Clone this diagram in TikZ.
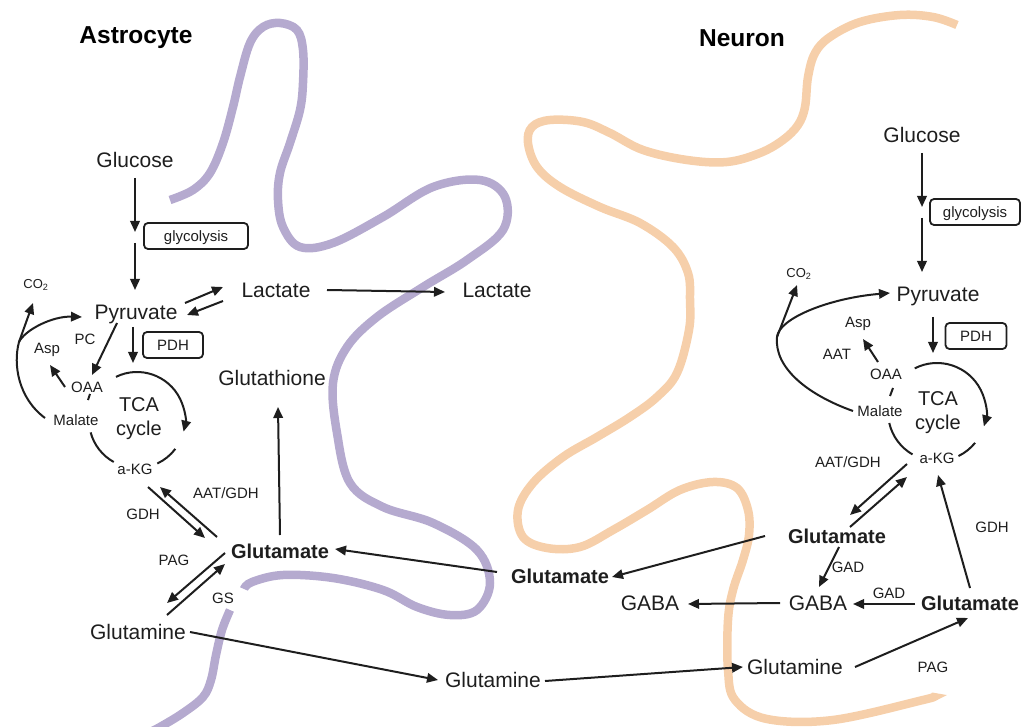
\documentclass[tikz,border=0pt]{standalone}
\usepackage{fontspec}
\setmainfont{Liberation Sans}
\usetikzlibrary{arrows.meta}
\definecolor{astro}{HTML}{B5AACF}
\definecolor{neuro}{HTML}{F6CFAA}
\definecolor{ink}{HTML}{1E1E1E}

\begin{document}
\begin{tikzpicture}[->,>={Triangle[length=11pt,width=9.5pt]},line width=2pt,
                    color=ink,x=1pt,y=-1pt]
  \tikzstyle{met}=[font=\fontsize{21}{24}\selectfont,text height=15pt,text depth=0pt,inner sep=0pt]
  \tikzstyle{metb}=[met,font=\fontsize{20}{24}\selectfont\bfseries,text height=14.5pt]
  \tikzstyle{lbl}=[font=\fontsize{15}{18}\selectfont,text height=10.7pt,text depth=0pt,inner sep=0pt]
  \tikzstyle{enz}=[lbl,draw,rounded corners=4pt,line width=1.8pt,minimum height=26pt]
  \tikzstyle{cycle}=[font=\fontsize{20}{24}\selectfont,align=center,inner sep=0pt]
  \tikzstyle{cellname}=[font=\fontsize{24.5}{28}\selectfont\bfseries,text=black]
  \tikzstyle{membrane}=[-,line width=8.5pt]

  \useasboundingbox (0,0) rectangle (1023,727);

  % membranes
  \draw[membrane,draw=astro] plot[smooth,tension=0.6] coordinates {
    (170,200) (193,190) (210,173) (223,143) (233,107) (240,77) (250,43) (263,27)
    (280,23) (297,30) (303,50) (303,83) (300,110) (290,143) (280,173) (278,200)
    (283,227) (300,247) (333,243) (383,217) (433,187) (480,180) (505,197) (503,230)
    (467,260) (423,287) (377,317) (347,347) (333,383) (337,433) (350,483) (383,507)
    (433,523) (477,550) (490,583) (477,610) (450,615) (417,607) (383,590) (333,578)
    (283,575) (252,582) (244,589)};
  \draw[membrane,draw=astro] plot[smooth,tension=0.6] coordinates {
    (230,610) (222,630) (216,655) (211,680) (203,697) (183,713) (160,727) (150,732)};
  \draw[membrane,draw=neuro] plot[smooth,tension=0.6] coordinates {
    (957,25) (933,17) (900,15) (860,22) (830,37) (815,53) (808,77) (805,107)
    (798,125) (783,140) (760,153) (727,162) (687,160) (643,150) (610,133) (583,122)
    (550,120) (532,127) (528,143) (537,167) (560,187) (600,207) (640,223) (673,247)
    (688,273) (690,300) (689,330) (677,373) (657,397) (630,417) (597,437) (563,457)
    (533,483) (518,510) (523,537) (547,548) (580,547) (613,530) (647,510) (680,490)
    (713,482) (737,488) (748,510) (749,535) (743,560) (733,590) (728,620) (728,670)
    (735,700) (767,719) (833,720) (923,700) (932,697)};

  % astrocyte
  \node[cellname] (TA) at (136,38) {Astrocyte};
  \node[met] (GlcA) at (135,160) {Glucose};
  \coordinate (gA) at (135,238);
  \node[enz,minimum width=104pt] (glyA) at (196,236) {glycolysis};
  \node[met] (PyrA) at (136,312) {Pyruvate};
  \node[met] (LacA) at (276,290) {Lactate};
  \node[enz,minimum width=60pt] (pdhA) at (173,345) {PDH};
  \node[lbl] (PCA) at (85,339) {PC};
  \node[lbl] (AspA) at (47,348) {Asp};
  \node[lbl] (OAAA) at (87,387) {OAA};
  \node[lbl] (MalA) at (76,420) {Malate};
  \coordinate (cA) at (137,420);
  \node[cycle] (TCAA) at (139,419) {TCA\\cycle};
  \node[lbl] (aKGA) at (135,469) {a-KG};
  \node[lbl,font=\fontsize{13}{15}\selectfont] (CO2A) at (36,283) {CO\textsubscript{2}};
  \coordinate (brA) at (19,342);
  \node[lbl] (GDHA) at (143,514) {GDH};
  \node[lbl] (AGA) at (226,493) {AAT/GDH};
  \node[metb] (GluA) at (280,551) {Glutamate};
  \node[lbl] (PAGA) at (174,560) {PAG};
  \node[lbl] (GSA) at (223,598) {GS};
  \node[met] (GlnA) at (138,632) {Glutamine};
  \node[met] (GshA) at (272,378) {Glutathione};

  % between the cells
  \node[met] (LacX) at (497,290) {Lactate};
  \node[metb] (GluX) at (560,576) {Glutamate};
  \node[met] (GABAX) at (650,603) {GABA};
  \node[met] (GlnX) at (493,680) {Glutamine};

  % neuron
  \node[cellname] (TN) at (742,38) {Neuron};
  \node[met] (GlcN) at (922,135) {Glucose};
  \coordinate (gN) at (922,213);
  \node[enz,minimum width=90pt] (glyN) at (975,212) {glycolysis};
  \node[met] (PyrN) at (938,294) {Pyruvate};
  \node[enz,minimum width=61pt] (pdhN) at (976,336) {PDH};
  \node[lbl,font=\fontsize{13}{15}\selectfont] (CO2N) at (799,272) {CO\textsubscript{2}};
  \coordinate (brN) at (777,337);
  \node[lbl] (AspN) at (858,322) {Asp};
  \node[lbl] (AATN) at (837,354) {AAT};
  \node[lbl] (OAAN) at (886,374) {OAA};
  \node[lbl] (MalN) at (880,411) {Malate};
  \coordinate (cN) at (937,412);
  \node[cycle] (TCAN) at (938,413) {TCA\\cycle};
  \node[lbl] (aKGN) at (937,458) {a-KG};
  \node[lbl] (AGN) at (848,462) {AAT/GDH};
  \node[metb] (Glu1N) at (837,536) {Glutamate};
  \node[lbl] (GAD1) at (848,567) {GAD};
  \node[met] (GABAN) at (818,603) {GABA};
  \node[lbl] (GAD2) at (889,593) {GAD};
  \node[metb] (Glu2N) at (970,603) {Glutamate};
  \node[lbl] (GDHN) at (992,527) {GDH};
  \node[met] (GlnN) at (795,667) {Glutamine};
  \node[lbl] (PAGN) at (933,667) {PAG};

  % TCA cycles
  \draw ([shift={(244:48)}]cA) arc (244:374:48);
  \draw[-] ([shift={(37:48)}]cA) arc (37:65:48);
  \draw[-] ([shift={(119:48)}]cA) arc (119:165:48);
  \draw[-] ([shift={(-47,-26)}]cA) -- ([shift={(-49,-20)}]cA);
  \draw ([shift={(243:49)}]cN) arc (243:377:49);
  \draw[-] ([shift={(39:49)}]cN) arc (39:64:49);
  \draw[-] ([shift={(120:49)}]cN) arc (120:167:49);
  \draw[-] ([shift={(-44,-24)}]cN) -- ([shift={(-47,-16)}]cN);

  % malate back to pyruvate
  \draw ([shift={(-31,-2)}]MalA.center) .. controls (18,398) and (13,364) .. (brA)
        .. controls (25,330) and (52,316) .. ([shift={(-54,5)}]PyrA.center);
  \draw ([shift={(-27,0)}]MalN.center) .. controls (808,395) and (774,368) .. (brN)
        .. controls (779,318) and (830,298) .. ([shift={(-48,-1)}]PyrN.center);

  \path ([shift={(0,18)}]GlcA.center) edge ([shift={(0,-6)}]gA)
        ([shift={(0,5)}]gA) edge ([shift={(-1,-22)}]PyrA.center)
        ([shift={(49,-9)}]PyrA.center) edge ([shift={(-53,-3)}]LacA.center)
        ([shift={(-53,11)}]LacA.center) edge ([shift={(51,3)}]PyrA.center)
        ([shift={(51,0)}]LacA.center) edge ([shift={(-52,2)}]LacX.center)
        ([shift={(-3,15)}]PyrA.center) edge ([shift={(-4,-57)}]cA)
        ([shift={(-19,11)}]PyrA.center) edge ([shift={(5,-12)}]OAAA.center)
        ([shift={(-22,0)}]OAAA.center) edge ([shift={(3,17)}]AspA.center)
        (brA) edge ([shift={(-3,20)}]CO2A.center)
        ([shift={(13,18)}]aKGA.center) edge ([shift={(-75,-13)}]GluA.center)
        ([shift={(-63,-14)}]GluA.center) edge ([shift={(25,18)}]aKGA.center)
        ([shift={(-55,2)}]GluA.center) edge ([shift={(29,-29)}]GlnA.center)
        ([shift={(29,-17)}]GlnA.center) edge ([shift={(-55,13)}]GluA.center)
        ([shift={(0,-16)}]GluA.center) edge ([shift={(6,29)}]GshA.center)
        ([shift={(52,0)}]GlnA.center) edge ([shift={(-55,0)}]GlnX.center)
        ([shift={(-63,-4)}]GluX.center) edge ([shift={(55,-2)}]GluA.center);

  \path ([shift={(0,18)}]GlcN.center) edge ([shift={(0,-6)}]gN)
        ([shift={(0,5)}]gN) edge ([shift={(-16,-22)}]PyrN.center)
        ([shift={(-5,23)}]PyrN.center) edge ([shift={(-4,-59)}]cN)
        ([shift={(-8,-12)}]OAAN.center) edge ([shift={(5,17)}]AspN.center)
        (brN) edge ([shift={(-2,13)}]CO2N.center)
        ([shift={(-30,6)}]aKGN.center) edge ([shift={(13,-21)}]Glu1N.center)
        ([shift={(13,-9)}]Glu1N.center) edge ([shift={(-30,19)}]aKGN.center)
        ([shift={(-72,0)}]Glu1N.center) edge ([shift={(52,1)}]GluX.center)
        ([shift={(2,11)}]Glu1N.center) edge ([shift={(1,-16)}]GABAN.center)
        ([shift={(-55,1)}]Glu2N.center) edge ([shift={(35,1)}]GABAN.center)
        ([shift={(-38,0)}]GABAN.center) edge ([shift={(38,1)}]GABAX.center)
        ([shift={(0,-15)}]Glu2N.center) edge ([shift={(1,17)}]aKGN.center)
        ([shift={(52,1)}]GlnX.center) edge ([shift={(-52,0)}]GlnN.center)
        ([shift={(60,0)}]GlnN.center) edge ([shift={(-2,15)}]Glu2N.center);
\end{tikzpicture}
\end{document}
